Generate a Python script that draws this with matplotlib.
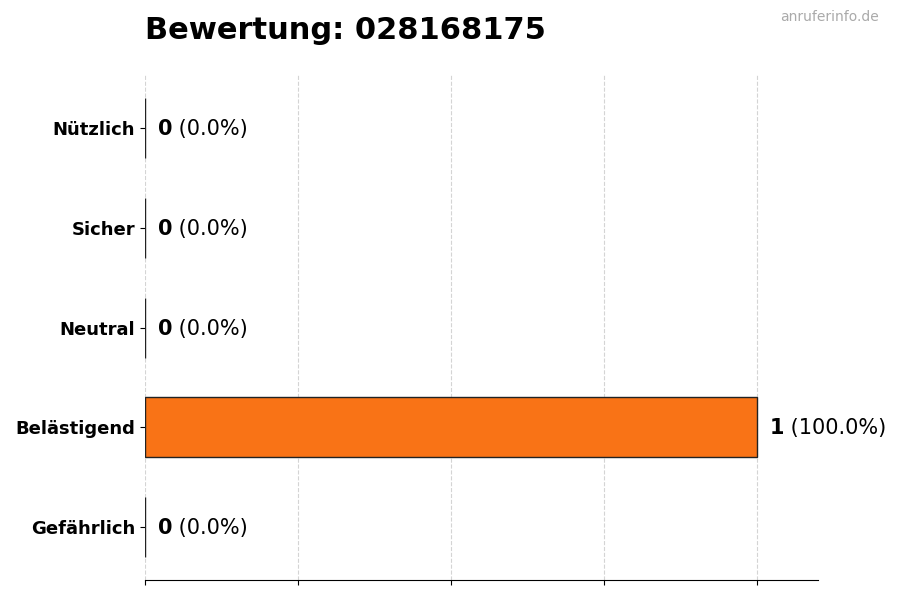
import matplotlib
matplotlib.use("Agg")
import matplotlib.pyplot as plt
from matplotlib.transforms import offset_copy

categories = ["Gefährlich", "Belästigend", "Neutral", "Sicher", "Nützlich"]
counts = [0, 1, 0, 0, 0]
colors = ["#dc2626", "#f97316", "#9ca3af", "#22c55e", "#3b82f6"]
title = "Bewertung: 028168175"
watermark = "anruferinfo.de"

total = sum(counts)
percents = [c / total * 100 if total else 0 for c in counts]

fig = plt.figure(figsize=(9, 6), dpi=100)
ax = fig.add_axes([0.161, 0.033, 0.748, 0.842])

ypos = list(range(len(categories)))
ax.barh(ypos, counts, height=0.6, color=colors, edgecolor="#222222", linewidth=1)
ax.set_yticks(ypos)
ax.set_yticklabels(categories, fontsize=13, fontweight="bold")
ax.set_xlim(0, max(counts) * 1.1)
ax.set_xticks([0, 0.25, 0.5, 0.75, 1.0])
ax.set_xticklabels([])
ax.grid(axis="x", linestyle="--", color="#d4d4d4", linewidth=0.8)
ax.set_axisbelow(True)
for s in ["top", "right", "left"]:
    ax.spines[s].set_visible(False)

ax.set_title(title, loc="left", fontsize=22, fontweight="bold", pad=26)
fig.text(0.976, 0.972, watermark, ha="right", va="center", fontsize=10, color="#aaaaaa")

fig.canvas.draw()
renderer = fig.canvas.get_renderer()
for y, c, p in zip(ypos, counts, percents):
    tr = offset_copy(ax.transData, fig=fig, x=13, y=-1, units="dots")
    t1 = ax.text(c, y, f"{c}", transform=tr, ha="left", va="center",
                 fontsize=15, fontweight="bold")
    w = t1.get_window_extent(renderer).width
    tr2 = offset_copy(ax.transData, fig=fig, x=13 + w, y=-1, units="dots")
    ax.text(c, y, f" ({p:.1f}%)", transform=tr2, ha="left", va="center", fontsize=15)

fig.savefig("out.png", dpi=100)
